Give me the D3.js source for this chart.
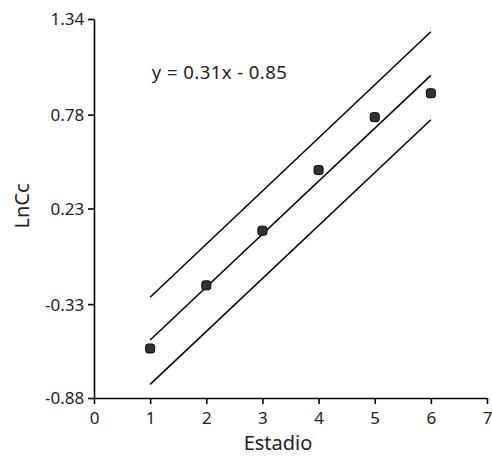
<!DOCTYPE html>
<html>
<head>
<meta charset="utf-8">
<script src="https://cdn.jsdelivr.net/npm/d3@7"></script>
<style>
body{margin:0;background:#fff;}
text{font-family:"Noto Sans",sans-serif;}
</style>
</head>
<body>
<svg width="492" height="458"></svg>
<script>
// observed points
var stages = [1,2,3,4,5,6]
var lnCc = [-0.59,-0.22,0.10,0.455,0.765,0.905]
// fitted line y = 0.31x - 0.85 and band around it
var fitX = [1,6]
var fitY = [-0.54,1.01]
var upperY = [-0.29,1.265]
var lowerY = [-0.80,0.75]
var xTicks = [0,1,2,3,4,5,6,7]
var yTicks = [-0.88,-0.33,0.23,0.78,1.34]

var margins = {left:94,right:5,top:19,bottom:60}
var screen = {width:492,height:458}
var graph = {
    width:screen.width-margins.left-margins.right,
    height:screen.height-margins.top-margins.bottom
}

var svg = d3.select("svg")
var target = svg.append("g")
    .attr("transform","translate("+margins.left+","+margins.top+")")

var xScale = d3.scaleLinear().domain([0,7]).range([0,graph.width])
var yScale = d3.scaleLinear().domain([-0.88,1.34]).range([graph.height,0])

var xAxis = d3.axisBottom(xScale).tickValues(xTicks).tickSize(6).tickSizeOuter(0)
    .tickFormat(function(d){return String(d)})
var yAxis = d3.axisLeft(yScale).tickValues(yTicks).tickSize(6).tickSizeOuter(0)
    .tickFormat(function(d){return d.toFixed(2)})

var gx = target.append("g")
    .attr("transform","translate(0,"+graph.height+")")
    .call(xAxis)
var gy = target.append("g").call(yAxis)

;[gx,gy].forEach(function(g){
    g.selectAll("path,line").attr("stroke","#000").attr("stroke-width",1.6)
    g.selectAll("text").attr("font-size",17).attr("fill","#222")
})
gx.selectAll("text").attr("dy","1.0em")
gy.selectAll("text").attr("dx","-0.05em").attr("dy","0.35em")

// lines
var line = d3.line()
    .x(function(d){return xScale(d[0])})
    .y(function(d){return yScale(d[1])})
;[upperY,fitY,lowerY].forEach(function(ys){
    target.append("path")
        .datum(fitX.map(function(x,i){return [x,ys[i]]}))
        .attr("d",line)
        .attr("fill","none")
        .attr("stroke","#000")
        .attr("stroke-width",1.5)
})

// points
target.selectAll("rect.pt")
    .data(stages)
    .enter()
    .append("rect")
    .attr("class","pt")
    .attr("x",function(d){return xScale(d)-4.5})
    .attr("y",function(d,i){return yScale(lnCc[i])-4.5})
    .attr("width",9)
    .attr("height",9)
    .attr("rx",2.5)
    .attr("fill","#333")
    .attr("stroke","#000")
    .attr("stroke-width",1)

// equation
target.append("text")
    .attr("x",xScale(1.03))
    .attr("y",yScale(0.99))
    .attr("font-size",18.5)
    .attr("textLength",135)
    .attr("fill","#222")
    .text("y = 0.31x - 0.85")

// axis labels
svg.append("text")
    .attr("x",278)
    .attr("y",450)
    .attr("text-anchor","middle")
    .attr("font-size",20)
    .attr("fill","#222")
    .text("Estadio")

svg.append("text")
    .attr("transform","translate(29,206) rotate(-90)")
    .attr("text-anchor","middle")
    .attr("font-size",20)
    .attr("fill","#222")
    .text("LnCc")
</script>
</body>
</html>
